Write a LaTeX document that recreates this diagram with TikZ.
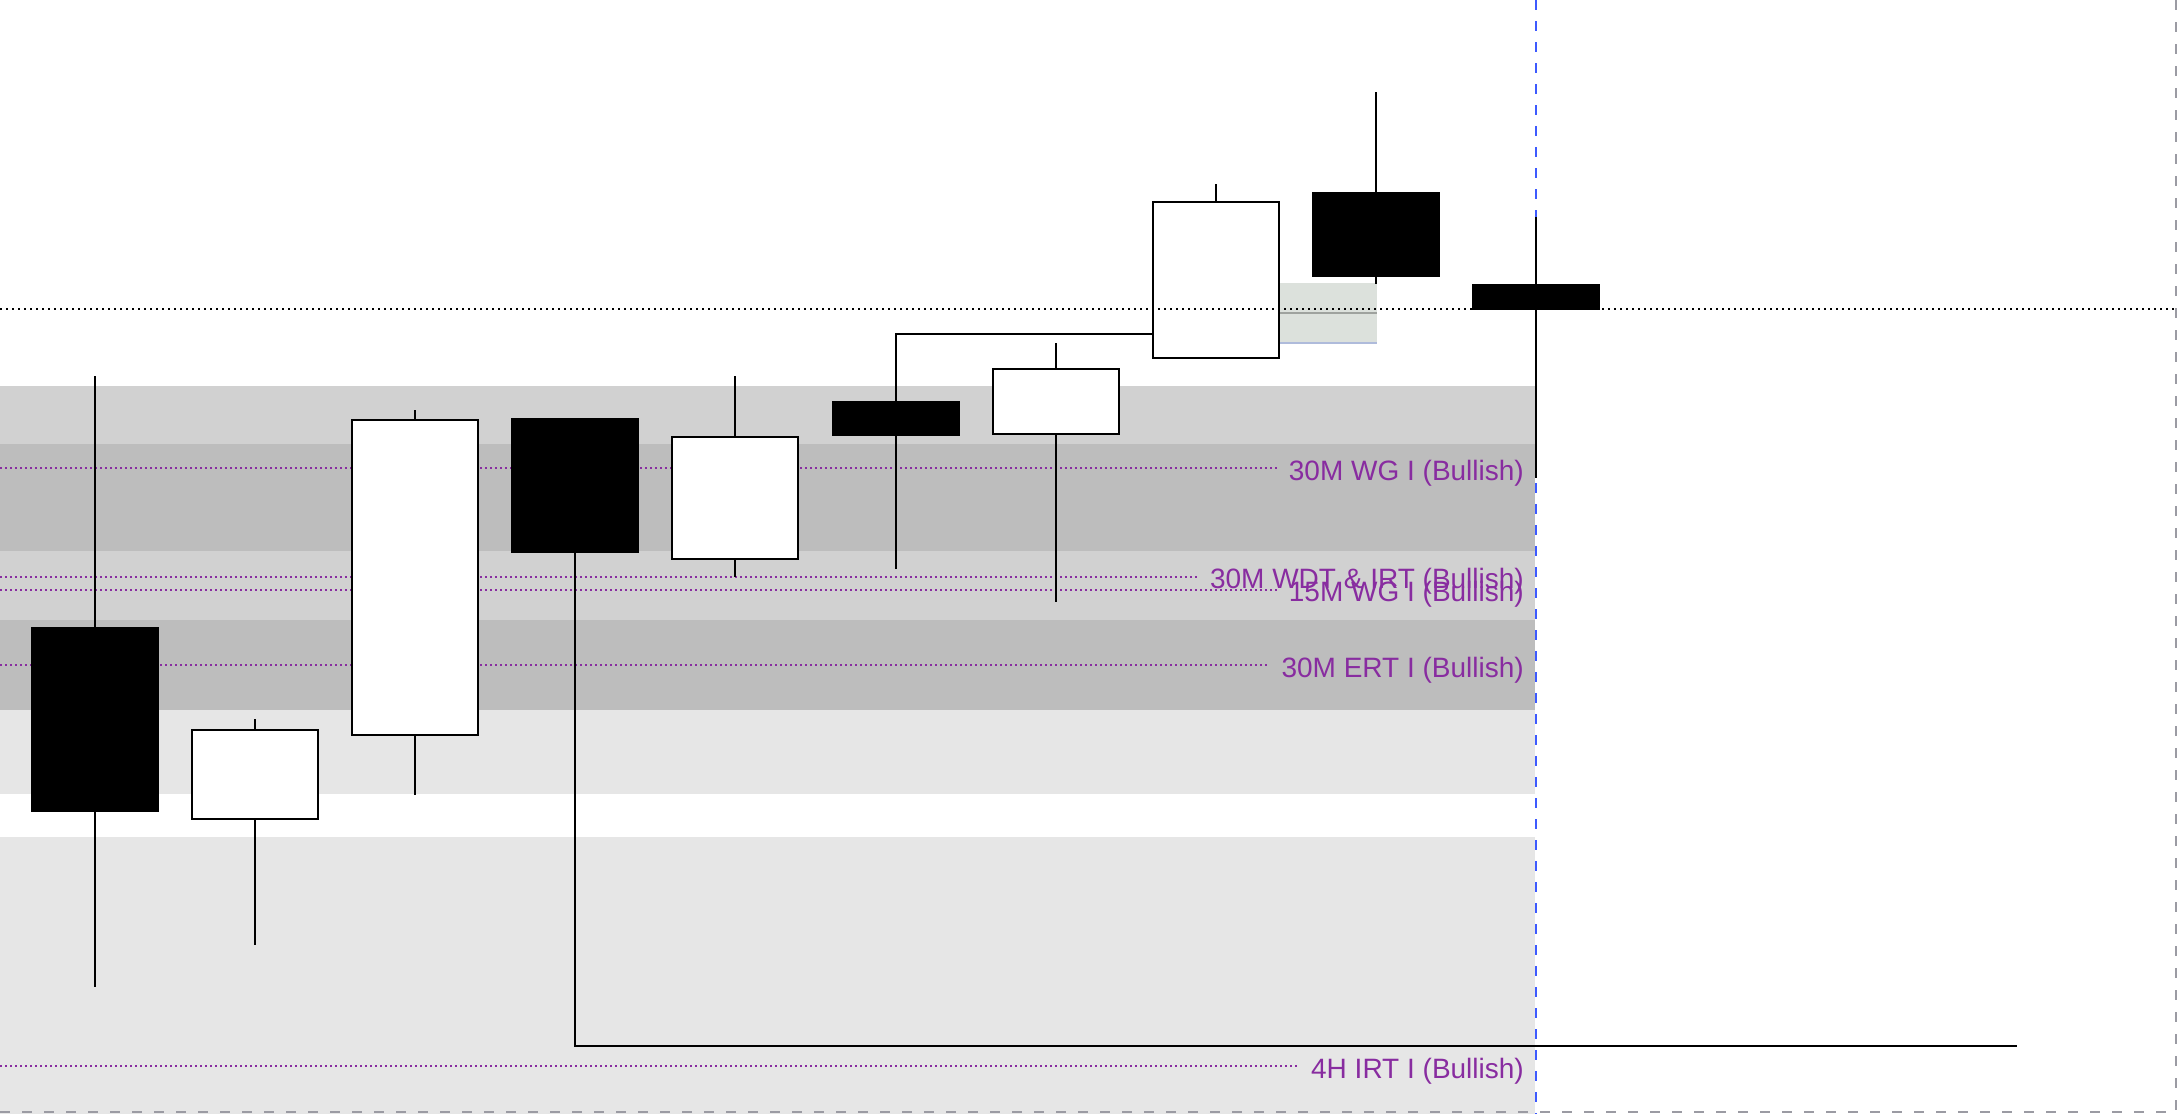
\documentclass[tikz,border=0pt]{standalone}
\usepackage{fontspec}
\setmainfont{Liberation Sans}
\definecolor{purp}{RGB}{136,44,160}
\definecolor{bandA}{HTML}{D1D1D1}
\definecolor{bandB}{HTML}{BDBDBD}
\definecolor{bandC}{HTML}{E6E6E6}
\definecolor{fvg}{HTML}{DCE1DC}
\definecolor{fvgmid}{HTML}{9EA29E}
\definecolor{fvgbot}{HTML}{AFBBDB}
\definecolor{vblue}{RGB}{61,90,254}
\definecolor{frame}{HTML}{9B9BA3}
\begin{document}
\begin{tikzpicture}[x=1pt,y=-1pt,
  bear/.style={fill=black, inner sep=0pt, minimum width=128pt},
  bull/.style={draw=black, fill=white, line width=2pt, inner sep=0pt, minimum width=126pt},
  wick/.style={line width=2pt},
  lvl/.style={draw=purp, line width=2pt, dash pattern=on 2pt off 3pt, shorten >=12pt},
  lbl/.style={text=purp, font=\fontsize{28}{34}\selectfont, anchor=base east, inner sep=0pt},
  dotblk/.style={line width=2pt, dash pattern=on 2pt off 4pt},
  vdash/.style={draw=vblue, line width=2pt, dash pattern=on 10pt off 11pt},
  frm/.style={draw=frame, line width=2pt, dash pattern=on 10pt off 12pt}]
\useasboundingbox (0,0) rectangle (2178,1114);
% bands
\fill[bandA] (0,386) rectangle (1535,444);
\fill[bandB] (0,444) rectangle (1535,551);
\fill[bandA] (0,551) rectangle (1535,620);
\fill[bandB] (0,620) rectangle (1535,710);
\fill[bandC] (0,710) rectangle (1535,794);
\fill[bandC] (0,837) rectangle (1535,1114);
% fvg box
\fill[fvg] (1279,283) rectangle (1377,343);
\draw[fvgmid, line width=2pt] (1279,313) -- (1377,313);
\draw[fvgbot, line width=2pt] (1279,343) -- (1377,343);
% frame
\draw[frm] (0,1112) -- (2176,1112);
\draw[frm] (2176,0) -- (2176,1112);
% blue vertical
\draw[vdash] (1536,0) -- (1536,1114);
% labels
\node[lbl] (lA) at (1524,480) {30M WG I (Bullish)};
\node[lbl] (lB) at (1524,588) {30M WDT \& IRT (Bullish)};
\node[lbl] (lC) at (1524,601) {15M WG I (Bullish)};
\node[lbl] (lD) at (1524,677) {30M ERT I (Bullish)};
\node[lbl] (lE) at (1524,1078) {4H IRT I (Bullish)};
\draw[lvl] (0,468) -- (lA.west |- 0,468);
\draw[lvl] (0,577) -- (lB.west |- 0,577);
\draw[lvl] (0,590) -- (lC.west |- 0,590);
\draw[lvl] (0,665) -- (lD.west |- 0,665);
\draw[lvl] (0,1066) -- (lE.west |- 0,1066);
% wick end coordinates
\coordinate (t1) at (95,376);   \coordinate (b1) at (95,987);
\coordinate (t2) at (255,719);  \coordinate (b2) at (255,945);
\coordinate (t3) at (415,410);  \coordinate (b3) at (415,795);
\coordinate (e4) at (2017,1046);
\coordinate (t5) at (735,376);  \coordinate (b5) at (735,577);
\coordinate (j6) at (1153,334); \coordinate (b6) at (896,569);
\coordinate (t7) at (1056,343); \coordinate (b7) at (1056,602);
\coordinate (t8) at (1216,184);
\coordinate (t9) at (1376,92);  \coordinate (b9) at (1376,284);
\coordinate (t10) at (1536,217); \coordinate (b10) at (1536,478);
% wicks
\draw[wick] (t1) -- (b1);
\draw[wick] (t2) -- (b2);
\draw[wick] (t3) -- (b3);
\draw[wick] (575,418) |- (e4);
\draw[wick] (t5) -- (b5);
\draw[wick] (b6) |- (j6);
\draw[wick] (t7) -- (b7);
\draw[wick] (t8) -- (1216,280);
\draw[wick] (t9) -- (b9);
\draw[wick] (t10) -- (b10);
% bodies
\node[bear, minimum height=185pt] (c1) at (95,719.5) {};
\node[bull, minimum height=89pt]  (c2) at (255,774.5) {};
\node[bull, minimum height=315pt] (c3) at (415,577.5) {};
\node[bear, minimum height=135pt] (c4) at (575,485.5) {};
\node[bull, minimum height=122pt] (c5) at (735,498) {};
\node[bear, minimum height=35pt]  (c6) at (896,418.5) {};
\node[bull, minimum height=65pt]  (c7) at (1056,401.5) {};
\node[bull, minimum height=156pt] (c8) at (1216,280) {};
\node[bear, minimum height=85pt]  (c9) at (1376,234.5) {};
\node[bear, minimum height=26pt]  (c10) at (1536,297) {};
% black dotted level
\draw[dotblk] (0,309) -- (2178,309);
\end{tikzpicture}
\end{document}
